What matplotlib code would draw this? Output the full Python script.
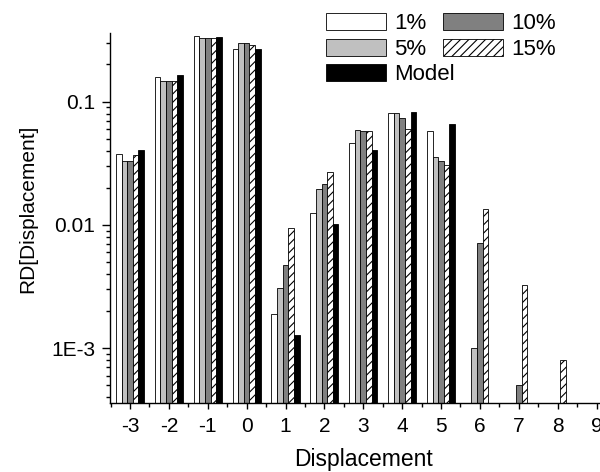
import numpy as np
import matplotlib
matplotlib.use("Agg")
import matplotlib.pyplot as plt
from matplotlib.ticker import FixedLocator, FuncFormatter, LogLocator, NullFormatter

plt.rcParams['font.family'] = ['Liberation Sans', 'DejaVu Sans']
plt.rcParams['axes.unicode_minus'] = False
plt.rcParams['hatch.linewidth'] = 0.8

displacement = [-3, -2, -1, 0, 1, 2, 3, 4, 5, 6, 7, 8]
nan = np.nan
rd_1 = [0.0376, 0.158, 0.338, 0.268, 0.00189, 0.0126, 0.0461, 0.081, 0.0574, nan, nan, nan]
rd_5 = [0.0331, 0.1456, 0.330, 0.296, 0.00306, 0.0196, 0.0585, 0.081, 0.0355, 0.00101, nan, nan]
rd_10 = [0.0331, 0.147, 0.325, 0.298, 0.00473, 0.0216, 0.0583, 0.0732, 0.0331, 0.00714, 0.000507, nan]
rd_15 = [0.0369, 0.147, 0.325, 0.289, 0.0094, 0.0271, 0.0583, 0.060, 0.0308, 0.0134, 0.00323, 0.000798]
rd_model = [0.0407, 0.164, 0.331, 0.265, 0.00128, 0.0102, 0.0407, 0.0819, 0.0663, nan, nan, nan]

series = [
    ("1%", rd_1, "white", None),
    ("5%", rd_5, "#c0c0c0", None),
    ("10%", rd_10, "#808080", None),
    ("15%", rd_15, "white", "////"),
    ("Model", rd_model, "black", None),
]

fig = plt.figure(figsize=(6, 4.72), dpi=100)
# axes run a little past the right edge of the picture, as in the original crop
ax = fig.add_axes([110 / 600, 69 / 472, 506 / 600, 370 / 472])

x = np.array(displacement, dtype=float)
w = 0.145
handles = {}
for i, (name, vals, color, hatch) in enumerate(series):
    b = ax.bar(x + (i - 2) * w, vals, width=w, color=color, edgecolor="black",
               linewidth=0.6, hatch=hatch, label=name)
    handles[name] = b

ax.set_yscale("log")
ax.set_ylim(3.6e-4, 0.36)
ax.set_xlim(-3.514, 9.5)

ax.xaxis.set_major_locator(FixedLocator(list(range(-3, 10))))
ax.xaxis.set_minor_locator(FixedLocator([v + 0.5 for v in range(-4, 10)]))
ax.yaxis.set_major_locator(FixedLocator([1e-3, 1e-2, 1e-1]))
ax.yaxis.set_minor_locator(LogLocator(base=10, subs=np.arange(2, 10)))
ax.yaxis.set_minor_formatter(NullFormatter())
ylabels = {1e-3: "1E-3", 1e-2: "0.01", 1e-1: "0.1"}
ax.yaxis.set_major_formatter(FuncFormatter(lambda v, p: ylabels.get(round(v, 6), "")))

for s in ("top", "right"):
    ax.spines[s].set_visible(False)
for s in ("left", "bottom"):
    ax.spines[s].set_linewidth(1.0)

ax.tick_params(axis="both", which="major", direction="out", width=1, labelsize=15)
ax.tick_params(axis="x", which="major", length=4.5, pad=5.5)
ax.tick_params(axis="y", which="major", length=5.5, pad=5)
ax.tick_params(axis="x", which="minor", direction="out", length=3, width=1)
ax.tick_params(axis="y", which="minor", direction="out", length=3, width=1)

ax.set_xlabel("Displacement", fontsize=16.5)
ax.xaxis.set_label_coords(0.5, -0.122)
ax.set_ylabel("RD[Displacement]", fontsize=15)
ax.yaxis.set_label_coords(-0.144, 0.524)

leg_kw = dict(frameon=False, fontsize=16, handlelength=2.7, handleheight=0.81,
              handletextpad=0.35, labelspacing=0.19, borderpad=0, borderaxespad=0,
              loc="upper left", bbox_transform=fig.transFigure)
col1 = ["1%", "5%", "Model"]
col2 = ["10%", "15%"]
leg1 = ax.legend([handles[n] for n in col1], col1,
                 bbox_to_anchor=(326 / 600, 1 - 13 / 472), **leg_kw)
ax.add_artist(leg1)
ax.legend([handles[n] for n in col2], col2,
          bbox_to_anchor=(443 / 600, 1 - 13 / 472), **leg_kw)

fig.savefig("out.png", dpi=100)
